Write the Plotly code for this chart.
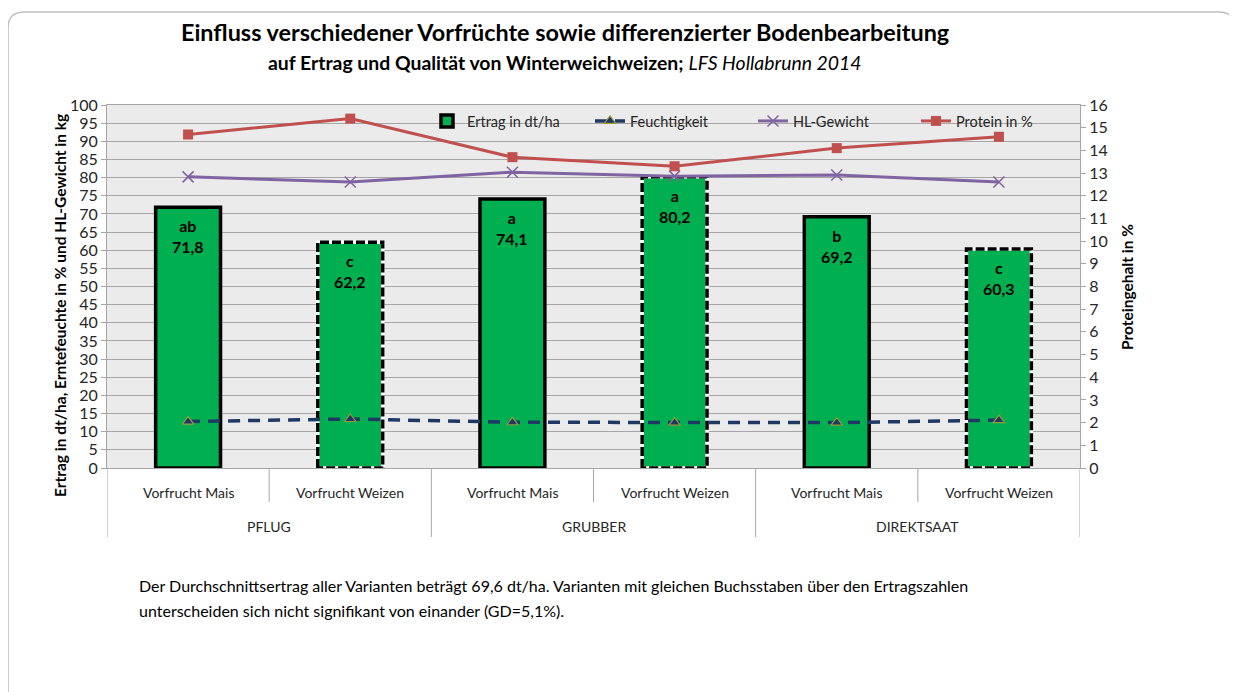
import plotly.graph_objects as go

# ---------------- data ----------------
groups = ["PFLUG", "GRUBBER", "DIREKTSAAT"]
vorfrucht = ["Vorfrucht Mais", "Vorfrucht Weizen", "Vorfrucht Mais", "Vorfrucht Weizen", "Vorfrucht Mais", "Vorfrucht Weizen"]
ertrag = [71.8, 62.2, 74.1, 80.2, 69.2, 60.3]
letters = ["ab", "c", "a", "a", "b", "c"]
feuchtigkeit = [12.8, 13.5, 12.6, 12.5, 12.5, 13.2]
hl_gewicht = [80.2, 78.8, 81.5, 80.4, 80.7, 78.8]
protein = [14.7, 15.4, 13.7, 13.3, 14.1, 14.6]
dashed_border = [False, True, False, True, False, True]

FONT = "Lato"
x = list(range(len(ertrag)))
BW = 0.4

# page has an 8px body margin: work in reference-page pixels and shift
OFF = 8
W, H = 1237 - OFF, 692 - OFF
L, R, T, B = 107 - OFF, 1080 - OFF, 105 - OFF, 468 - OFF
def px(xp):
    return (xp - OFF - L) / (R - L)
def py(yp):
    return (B - (yp - OFF)) / (B - T)

fig = go.Figure()

fig.add_trace(go.Bar(
    x=x, y=ertrag, width=BW, name="Ertrag in dt/ha",
    marker=dict(color="#00B050",
                line=dict(color=["#000000" if not d else "rgba(0,0,0,0)" for d in dashed_border], width=3.5)),
    hoverinfo="y", showlegend=True,
))

# dashed outlines for bars
ox, oy = [], []
for i, (v, d) in enumerate(zip(ertrag, dashed_border)):
    if d:
        ox += [i - BW / 2, i - BW / 2, i + BW / 2, i + BW / 2, i - BW / 2, None]
        oy += [0, v, v, 0, 0, None]
fig.add_trace(go.Scatter(x=ox, y=oy, mode="lines", line=dict(color="white", width=3.5),
                         showlegend=False, hoverinfo="skip", cliponaxis=False))
fig.add_trace(go.Scatter(x=ox, y=oy, mode="lines", line=dict(color="black", width=3.5, dash="9px,3px"),
                         showlegend=False, hoverinfo="skip", cliponaxis=False))

fig.add_trace(go.Scatter(
    x=x, y=feuchtigkeit, name="Feuchtigkeit", mode="lines+markers",
    line=dict(color="#1F3864", width=3.5, dash="12px,8px"),
    marker=dict(symbol="triangle-up", size=10, color="#1F3864", line=dict(color="#9C9A3A", width=1.2)),
))
fig.add_trace(go.Scatter(
    x=x, y=hl_gewicht, name="HL-Gewicht", mode="lines+markers",
    line=dict(color="#8064A2", width=3),
    marker=dict(symbol="x-thin", size=11, color="#8064A2", line=dict(color="#8064A2", width=1.5)),
))
fig.add_trace(go.Scatter(
    x=x, y=protein, name="Protein in %", mode="lines+markers", yaxis="y2",
    line=dict(color="#C0504D", width=3),
    marker=dict(symbol="square", size=10, color="#C0504D"),
))

annotations = []
# bar labels
for i, (v, l) in enumerate(zip(ertrag, letters)):
    annotations.append(dict(x=i, y=v, xref="x", yref="y", text=f"<b>{l}<br>{str(v).replace('.', ',')}</b>",
                            showarrow=False, xanchor="center", yanchor="top", yshift=-7,
                            font=dict(family=FONT, size=16, color="black")))
# category labels
for i, lab in enumerate(vorfrucht):
    annotations.append(dict(x=i, y=py(492), xref="x", yref="paper", text=lab, showarrow=False,
                            xanchor="center", yanchor="middle",
                            font=dict(family=FONT, size=14, color="#262626")))
for g, lab in enumerate(groups):
    annotations.append(dict(x=2 * g + 0.5, y=py(526), xref="x", yref="paper", text=lab, showarrow=False,
                            xanchor="center", yanchor="middle",
                            font=dict(family=FONT, size=14, color="#262626")))
# titles
annotations.append(dict(x=px(565), y=py(32), xref="paper", yref="paper", showarrow=False,
                        xanchor="center", yanchor="middle",
                        text="<b>Einfluss verschiedener Vorfrüchte sowie differenzierter Bodenbearbeitung</b>",
                        font=dict(family=FONT, size=23.4, color="black")))
annotations.append(dict(x=px(565), y=py(63), xref="paper", yref="paper", showarrow=False,
                        xanchor="center", yanchor="middle",
                        text="<b>auf Ertrag und Qualität von Winterweichweizen;</b> <i>LFS Hollabrunn 2014</i>",
                        font=dict(family=FONT, size=19.4, color="black")))
# axis titles
annotations.append(dict(x=px(60), y=py(306), xref="paper", yref="paper", showarrow=False, textangle=-90,
                        xanchor="center", yanchor="middle",
                        text="<b>Ertrag in dt/ha, Erntefeuchte in % und HL-Gewicht in kg</b>",
                        font=dict(family=FONT, size=15.5, color="black")))
annotations.append(dict(x=px(1127), y=py(287), xref="paper", yref="paper", showarrow=False, textangle=-90,
                        xanchor="center", yanchor="middle",
                        text="<b>Proteingehalt in %</b>",
                        font=dict(family=FONT, size=15.5, color="black")))
# footnote
foot = ["Der Durchschnittsertrag aller Varianten beträgt 69,6 dt/ha. Varianten mit gleichen Buchsstaben über den Ertragszahlen",
        "unterscheiden sich nicht signifikant von einander (GD=5,1%)."]
for k, line in enumerate(foot):
    annotations.append(dict(x=px(137), y=py(585 + 25 * k), xref="paper", yref="paper", showarrow=False,
                            xanchor="left", yanchor="middle", align="left", text=line,
                            font=dict(family=FONT, size=16, color="black")))

shapes = []
n = len(ertrag)
for k in range(n + 1):
    xb = k - 0.5
    long_line = (k % 2 == 0)
    shapes.append(dict(type="line", xref="x", yref="paper", x0=xb, x1=xb, y0=0,
                       y1=py(537) if long_line else py(502),
                       line=dict(color="#A6A6A6", width=1)))
# outer rounded frame
x0p, x1p = px(8), px(1235)
y0p, y1p = py(12), py(720)
rx = 16 / (R - L)
ry = 16 / (B - T)
path = (f"M {x0p},{y1p} L {x0p},{y0p - ry} Q {x0p},{y0p} {x0p + rx},{y0p} "
        f"L {x1p - rx},{y0p} Q {x1p},{y0p} {x1p},{y0p - ry} L {x1p},{y1p}")
shapes.append(dict(type="path", xref="paper", yref="paper", path=path, line=dict(color="#BFBFBF", width=1.5)))

fig.update_layout(
    width=W, height=H,
    margin=dict(l=L, r=W - R, t=T, b=H - B),
    paper_bgcolor="white", plot_bgcolor="#EBEBEB",
    font=dict(family=FONT, size=14, color="#262626"),
    xaxis=dict(range=[-0.5, n - 0.5], showticklabels=False, showgrid=False, zeroline=False,
               showline=True, linecolor="#A6A6A6", linewidth=1, mirror=True, fixedrange=True),
    yaxis=dict(range=[0, 100], dtick=5, showgrid=True, gridcolor="#A6A6A6", gridwidth=1, zeroline=False,
               showline=True, linecolor="#A6A6A6", ticks="outside", ticklen=5, tickcolor="#A6A6A6",
               tickfont=dict(family=FONT, size=16, color="#262626")),
    yaxis2=dict(range=[0, 16], dtick=1, overlaying="y", side="right", showgrid=False, zeroline=False,
                showline=True, linecolor="#A6A6A6", ticks="outside", ticklen=5, tickcolor="#A6A6A6",
                tickfont=dict(family=FONT, size=16, color="#262626")),
    legend=dict(orientation="h", x=px(427), y=1.0, xanchor="left", yanchor="top",
                bgcolor="rgba(0,0,0,0)", font=dict(family=FONT, size=14.5, color="#262626"),
                itemwidth=30, entrywidth=118, entrywidthmode="pixels"),
    annotations=annotations, shapes=shapes,
    showlegend=True,
)

fig.write_html("out.html")
